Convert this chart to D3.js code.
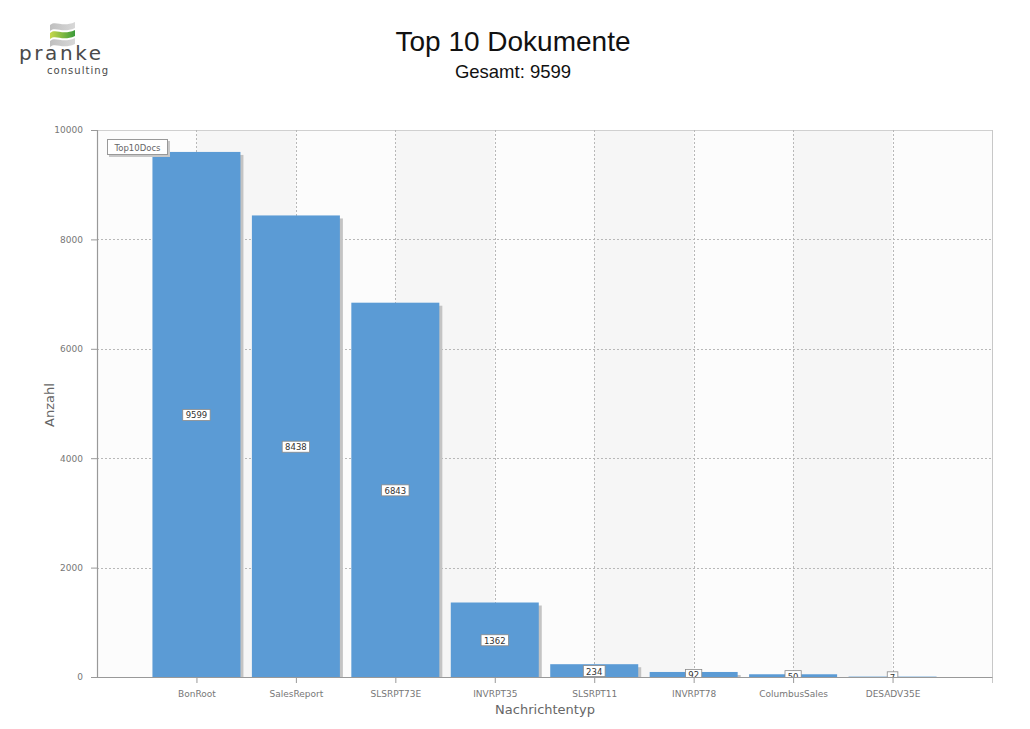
<!DOCTYPE html>
<html><head><meta charset="utf-8">
<script src="https://cdn.jsdelivr.net/npm/d3@7"></script>
<style>body{margin:0;background:#fff;}svg{display:block;}</style>
</head><body>
<svg id="c" width="1030" height="729"></svg>
<script>
const categories = ["BonRoot","SalesReport","SLSRPT73E","INVRPT35","SLSRPT11","INVRPT78","ColumbusSales","DESADV35E"];
const values = [9599, 8438, 6843, 1362, 234, 92, 50, 7];
const yTicks = [0, 2000, 4000, 6000, 8000, 10000];
const seriesName = "Top10Docs";
const titleText = "Top 10 Dokumente";
const subtitleText = "Gesamt: 9599";

const svg = d3.select("#c");
const L = 97, R = 992, T = 130, B = 677;
const x = d3.scalePoint().domain(categories).range([L, R]).padding(1);
const y = d3.scaleLinear().domain([0, 10000]).range([B, T]);
const barW = 88;
const tickFont = "'DejaVu Sans', Verdana, sans-serif";

const defs = svg.append("defs");
defs.append("clipPath").attr("id","plot").append("rect").attr("x",L).attr("y",T).attr("width",R-L).attr("height",B-T);
const g1 = defs.append("linearGradient").attr("id","green").attr("x1","0").attr("x2","1");
g1.append("stop").attr("offset","0").attr("stop-color","#c8d84a");
g1.append("stop").attr("offset","1").attr("stop-color","#3a9a3a");
const g2 = defs.append("linearGradient").attr("id","gray").attr("x1","0").attr("x2","1");
g2.append("stop").attr("offset","0").attr("stop-color","#bfbfbf");
g2.append("stop").attr("offset","1").attr("stop-color","#d8d8d8");

// Logo
const logo = svg.append("g");
const wave = (y0, h) => `M50,${y0+3} C56,${y0-2} 62,${y0+6} 75,${y0} L75,${y0+h} C62,${y0+h+6} 56,${y0+h-2} 50,${y0+h+3} Z`;
logo.append("path").attr("d", wave(22, 6)).attr("fill","url(#gray)");
logo.append("path").attr("d", wave(30, 6)).attr("fill","url(#green)");
logo.append("path").attr("d", wave(38, 6)).attr("fill","url(#gray)");
logo.append("text").attr("x",19).attr("y",60).attr("font-family","'DejaVu Sans', sans-serif")
  .attr("font-size",20).attr("fill","#4a4a4a").attr("textLength",82).text("pranke");
logo.append("text").attr("x",47).attr("y",74).attr("font-family","'DejaVu Sans', sans-serif")
  .attr("font-size",10).attr("fill","#4a4a4a").attr("textLength",61).text("consulting");

// Titles
svg.append("text").attr("x",513).attr("y",51).attr("text-anchor","middle")
  .attr("font-family","'Liberation Sans', Arial, sans-serif").attr("font-size",28).attr("fill","#111").text(titleText);
svg.append("text").attr("x",513).attr("y",78).attr("text-anchor","middle")
  .attr("font-family","'Liberation Sans', Arial, sans-serif").attr("font-size",18.5).attr("fill","#111").text(subtitleText);

// Plot background bands
const bandEdges = [L].concat(categories.map(c => x(c))).concat([R]);
const plot = svg.append("g");
for (let i = 0; i < bandEdges.length - 1; i++) {
  plot.append("rect").attr("x", bandEdges[i]).attr("y", T)
    .attr("width", bandEdges[i+1]-bandEdges[i]).attr("height", B-T)
    .attr("fill", i % 2 === 1 ? "#f6f6f6" : "#fcfcfc");
}
plot.append("line").attr("x1",L).attr("x2",R).attr("y1",T+0.5).attr("y2",T+0.5).attr("stroke","#d0d0d0");
plot.append("line").attr("x1",R+0.5).attr("x2",R+0.5).attr("y1",T).attr("y2",B+6).attr("stroke","#c8c8c8");

// Grid
plot.selectAll(".hg").data(yTicks.filter(d => d > 0 && d < 10000)).join("line")
  .attr("x1",L).attr("x2",R).attr("y1",d => Math.round(y(d))+0.5).attr("y2",d => Math.round(y(d))+0.5)
  .attr("stroke","#b8b8b8").attr("stroke-dasharray","2,2");
plot.selectAll(".vg").data(categories).join("line")
  .attr("x1",d => Math.round(x(d))+0.5).attr("x2",d => Math.round(x(d))+0.5).attr("y1",T).attr("y2",B)
  .attr("stroke","#b8b8b8").attr("stroke-dasharray","2,2");

// Bars
const bars = svg.append("g").attr("clip-path","url(#plot)");
const data = categories.map((c,i) => ({c, v: values[i]}));
bars.selectAll(".sh").data(data.filter(d => B - y(d.v) > 4)).join("rect")
  .attr("x", d => x(d.c) - barW/2 + 3).attr("y", d => y(d.v) + 3)
  .attr("width", barW).attr("height", d => Math.max(0, B - y(d.v)))
  .attr("fill", "#c4c4c4");
bars.selectAll(".bar").data(data).join("rect")
  .attr("x", d => x(d.c) - barW/2).attr("y", d => y(d.v))
  .attr("width", barW).attr("height", d => B - y(d.v))
  .attr("fill", "#5b9bd5");

// Value labels
const lbl = bars.selectAll(".lbl").data(data).join("g")
  .attr("transform", d => `translate(${x(d.c)},${(y(d.v)+B)/2 + 1})`);
lbl.each(function(d){
  const s = String(d.v);
  const w = s.length * 5.6 + 5;
  const gg = d3.select(this);
  gg.append("rect").attr("x",-w/2).attr("y",-6).attr("width",w).attr("height",11)
    .attr("fill","#fff").attr("stroke","#8a8a8a").attr("stroke-width",0.8);
  gg.append("text").attr("y",3).attr("text-anchor","middle").attr("font-family",tickFont)
    .attr("font-size",8.5).attr("fill","#333").text(s);
});

// Axes
const yAxis = svg.append("g").attr("transform",`translate(${L},0)`)
  .call(d3.axisLeft(y).tickValues(yTicks).tickSize(6).tickFormat(d3.format("d")));
const xAxis = svg.append("g").attr("transform",`translate(0,${B})`)
  .call(d3.axisBottom(x).tickSize(6).tickSizeOuter(0));
[yAxis, xAxis].forEach(a => {
  a.select(".domain").attr("stroke","#999").attr("stroke-width",1.2);
  a.selectAll(".tick line").attr("stroke","#999");
  a.selectAll(".tick text").attr("font-family",tickFont).attr("font-size",9).attr("fill","#777");
});
yAxis.selectAll(".tick text").attr("dx","-5");
xAxis.selectAll(".tick text").attr("dy","1.2em");

// Axis titles
svg.append("text").attr("transform","translate(54,405) rotate(-90)").attr("text-anchor","middle")
  .attr("font-family",tickFont).attr("font-size",13).attr("fill","#666").text("Anzahl");
svg.append("text").attr("x",545).attr("y",714).attr("text-anchor","middle")
  .attr("font-family",tickFont).attr("font-size",13).attr("fill","#666").text("Nachrichtentyp");

// Legend
const lg = svg.append("g");
lg.append("rect").attr("x",109).attr("y",141).attr("width",61).attr("height",16).attr("fill","#c8c8c8");
lg.append("rect").attr("x",107.5).attr("y",139.5).attr("width",60).attr("height",15).attr("fill","#fff").attr("stroke","#999");
lg.append("text").attr("x",137.5).attr("y",150.5).attr("text-anchor","middle").attr("font-family",tickFont)
  .attr("font-size",8.5).attr("fill","#666").text(seriesName);
</script>
</body></html>
